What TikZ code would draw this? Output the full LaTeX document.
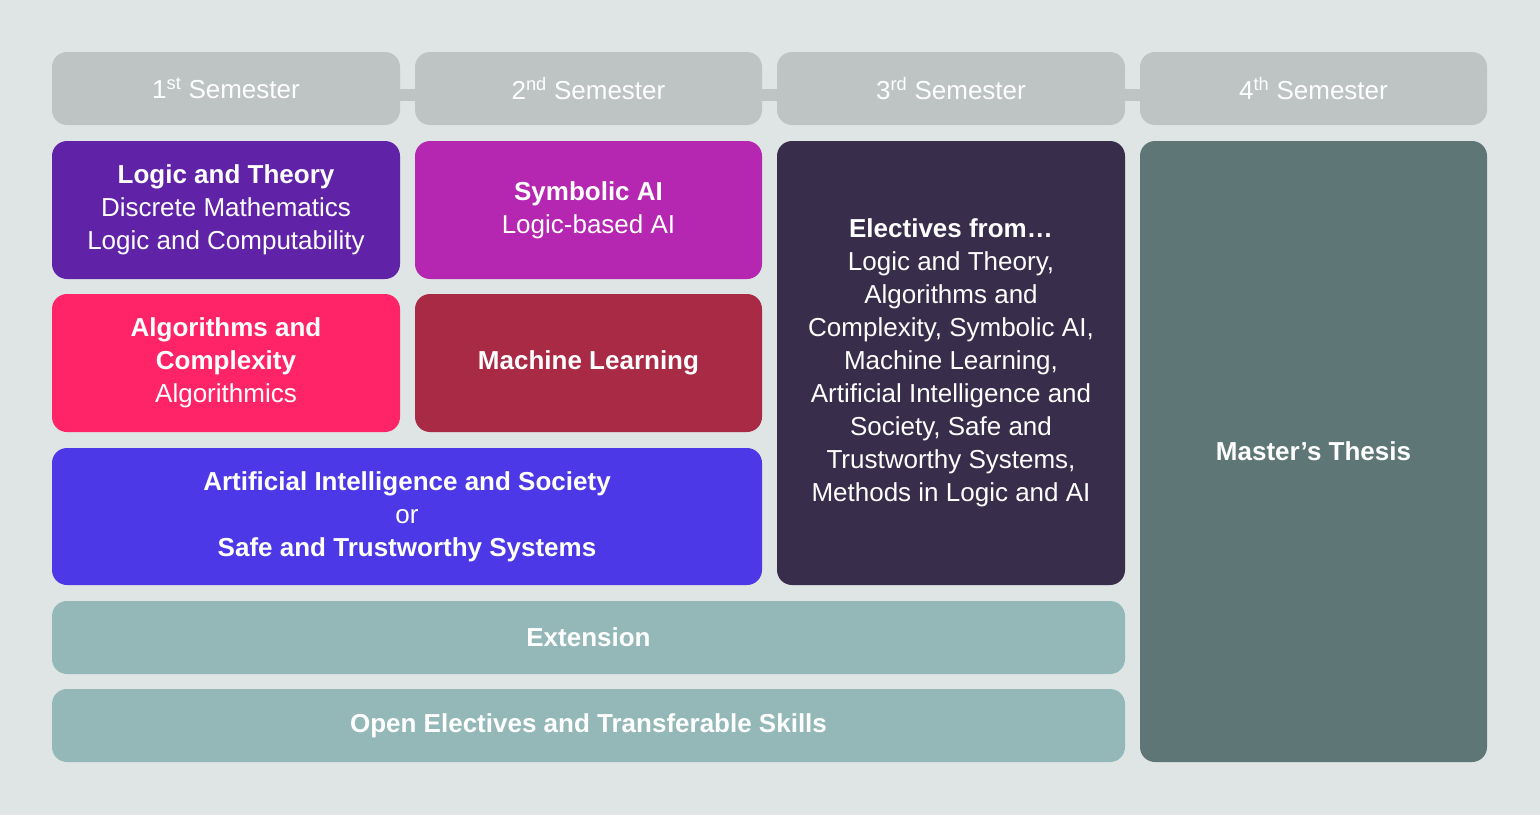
\documentclass[tikz,border=0pt]{standalone}
\usepackage{fontspec}
\setmainfont{Liberation Sans}
\definecolor{bg}{HTML}{DEE5E4}
\definecolor{hd}{HTML}{BDC4C3}
\definecolor{cpurple}{HTML}{6022A6}
\definecolor{cmag}{HTML}{B526B1}
\definecolor{cpink}{HTML}{FF2367}
\definecolor{ccrim}{HTML}{A82A45}
\definecolor{cblue}{HTML}{4C38E6}
\definecolor{cdark}{HTML}{382D4A}
\definecolor{cteal}{HTML}{94B8B8}
\definecolor{cthes}{HTML}{5E7676}
\begin{document}
\begin{tikzpicture}[x=1pt,y=-1pt,
  box/.style={rounded corners=15pt,inner sep=0pt,text=white,align=center,
    font=\fontsize{26}{33}\selectfont},
  link/.style={fill=hd,draw=none,inner sep=0pt,minimum width=18pt,minimum height=12pt}]
\fill[bg] (0,0) rectangle (1540,815);
\useasboundingbox (0,0) rectangle (1540,815);
% links between headers
\node[link] (l1) at (407.5,95) {};
\node[link] (l2) at (769.5,95) {};
\node[link] (l3) at (1132.5,95) {};
\node[box,fill=hd,minimum width=348pt,minimum height=73pt] (h1) at (226,88.5) {1\textsuperscript{st} Semester};
\node[box,fill=hd,minimum width=347pt,minimum height=73pt] (h2) at (588.5,88.5) {2\textsuperscript{nd} Semester};
\node[box,fill=hd,minimum width=348pt,minimum height=73pt] (h3) at (951,88.5) {3\textsuperscript{rd} Semester};
\node[box,fill=hd,minimum width=347pt,minimum height=73pt] (h4) at (1313.5,88.5) {4\textsuperscript{th} Semester};
\node[box,fill=cpurple,minimum width=348pt,minimum height=138pt] (lt) at (226,210) {\textbf{Logic and Theory}\\Discrete Mathematics\\Logic and Computability};
\node[box,fill=cmag,minimum width=347pt,minimum height=138pt] (sai) at (588.5,210) {\textbf{Symbolic AI}\\Logic-based AI};
\node[box,fill=cpink,minimum width=348pt,minimum height=138pt] (ac) at (226,363) {\textbf{Algorithms and}\\\textbf{Complexity}\\Algorithmics};
\node[box,fill=ccrim,minimum width=347pt,minimum height=138pt] (ml) at (588.5,363) {\textbf{Machine Learning}};
\node[box,fill=cblue,minimum width=710pt,minimum height=137pt] (ais) at (407,516.5) {\textbf{Artificial Intelligence and Society}\\or\\\textbf{Safe and Trustworthy Systems}};
\node[box,fill=cdark,minimum width=348pt,minimum height=444pt] (el) at (951,363) {\textbf{Electives from\dots}\\Logic and Theory,\\Algorithms and\\Complexity, Symbolic AI,\\Machine Learning,\\Artificial Intelligence and\\Society, Safe and\\Trustworthy Systems,\\Methods in Logic and AI};
\node[box,fill=cteal,minimum width=1073pt,minimum height=73pt] (ext) at (588.5,637.5) {\textbf{Extension}};
\node[box,fill=cteal,minimum width=1073pt,minimum height=73pt] (oe) at (588.5,725.5) {\textbf{Open Electives and Transferable Skills}};
\node[box,fill=cthes,minimum width=347pt,minimum height=621pt] (th) at (1313.5,451.5) {\textbf{Master’s Thesis}};
\end{tikzpicture}
\end{document}
